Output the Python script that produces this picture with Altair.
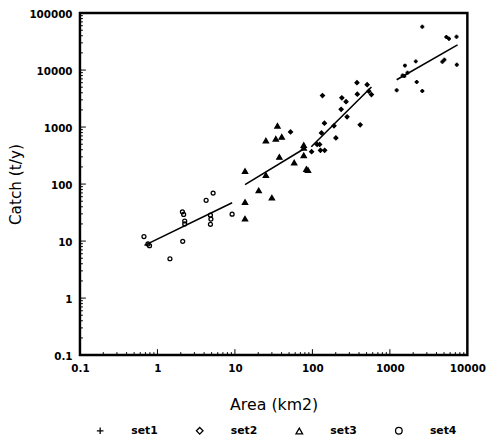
import altair as alt
import pandas as pd

# ---- data ----
set1_area = [2620, 5360, 5790, 7250, 2160, 1564, 4760, 5050, 7310, 1460, 1535, 1224, 2220, 2620, 1690]
set1_catch = [57300, 37900, 35500, 38500, 14200, 11970, 14000, 15200, 12400, 8030, 7820, 4430, 6170, 4300, 8940]

set2_area = [52.2, 97.7, 115, 124, 127, 144, 131, 135, 143, 190, 201, 235, 240, 272, 280, 376, 380, 414, 509, 535, 578]
set2_catch = [820, 370, 495, 495, 390, 390, 787, 3570, 1172, 1054, 646, 2047, 3260, 2780, 1510, 6000, 3770, 1097, 5540, 4250, 3720]

set3_area = [35.4, 25.1, 33.7, 40.2, 37.5, 58.2, 77.3, 77.3, 77.3, 83.6, 87.7, 13.5, 25.1, 20.3, 30.0, 13.5, 13.5]
set3_catch = [1054, 581, 621, 672, 299, 239, 482, 434, 319, 183, 176, 169, 144, 77.3, 57.7, 48.5, 24.7]

set4_area = [0.67, 0.755, 0.79, 1.45, 2.12, 2.10, 2.18, 2.25, 2.25, 4.25, 5.23, 4.83, 4.9, 4.83, 9.2]
set4_catch = [12.0, 8.9, 8.3, 4.9, 9.9, 32.6, 29.3, 22.5, 20.0, 51.9, 69.5, 28.5, 24.3, 19.7, 29.7]

# fitted line end points (per set)
line_set = ["set1", "set1", "set2", "set2", "set3", "set3", "set4", "set4"]
line_area = [1224, 7470, 96.8, 578, 13.5, 82, 0.68, 9.2]
line_catch = [6760, 27600, 451, 5050, 98, 433, 8.4, 47]

sets = ["set1", "set2", "set3", "set4"]
x_decades = [0.1, 1, 10, 100, 1000, 10000]
y_decades = [0.1, 1, 10, 100, 1000, 10000, 100000]
minor_mult = [2, 3, 4, 5, 6, 7, 8, 9]

rows = []
for name, xs, ys in [("set1", set1_area, set1_catch), ("set2", set2_area, set2_catch),
                     ("set3", set3_area, set3_catch), ("set4", set4_area, set4_catch)]:
    for a, c in zip(xs, ys):
        rows.append({"area": a, "catch": c, "set": name})
pts = pd.DataFrame(rows)
lines = pd.DataFrame({"area": line_area, "catch": line_catch, "set": line_set})

x_minor = [d * k for d in x_decades[:-1] for k in minor_mult]
y_minor = [d * k for d in y_decades[:-1] for k in minor_mult]

W, H = 393, 347
FONT = "DejaVu Sans"

xscale = alt.Scale(type="log", domain=[0.1, 10000], nice=False)
yscale = alt.Scale(type="log", domain=[0.1, 100000], nice=False)

plus_path = "M-1,0L1,0M0,-1L0,1"
shape_scale = alt.Scale(domain=sets, range=[plus_path, "diamond", "triangle-up", "circle"])


def x_ticks(values, size):
    return alt.Chart(pd.DataFrame({"area": values})).mark_rule(color="black", strokeWidth=1).encode(
        x=alt.X("area:Q", scale=xscale),
        y=alt.value(H), y2=alt.value(H - size),
    )


def y_ticks(values, size):
    return alt.Chart(pd.DataFrame({"catch": values})).mark_rule(color="black", strokeWidth=1).encode(
        y=alt.Y("catch:Q", scale=yscale),
        x=alt.value(0), x2=alt.value(size),
    )


points = alt.Chart(pts).mark_point(filled=False, color="black", opacity=1).encode(
    x=alt.X("area:Q", scale=xscale,
            axis=alt.Axis(orient="bottom", values=x_decades, format="~g", ticks=False, domain=False,
                          grid=False, labelPadding=9, labelFont=FONT, labelFontSize=10.5,
                          labelFontWeight="bold",
                          labelColor="black", labelOverlap=False, labelFlush=False,
                          title="Area  (km2)", titleFont=FONT, titleFontSize=16,
                          titleFontWeight="normal", titleColor="black", titlePadding=23)),
    y=alt.Y("catch:Q", scale=yscale,
            axis=alt.Axis(orient="left", values=y_decades, format="~g", ticks=False, domain=False,
                          grid=False, labelPadding=8, labelOffset=1.5, labelFont=FONT, labelFontSize=10.5,
                          labelFontWeight="bold",
                          labelColor="black", labelOverlap=False, labelFlush=False,
                          title="Catch  (t/y)", titleFont=FONT, titleFontSize=15.5,
                          titleFontWeight="normal", titleColor="black", titlePadding=5)),
    shape=alt.Shape("set:N", scale=shape_scale,
                    legend=alt.Legend(orient="none", direction="horizontal", legendX=15, legendY=418,
                                      title=None, labelFont=FONT, labelFontSize=11, labelFontWeight="bold",
                                      labelColor="black", symbolSize=45, symbolStrokeWidth=1.3,
                                      symbolStrokeColor="black", symbolFillColor="white",
                                      labelOffset=26, columnPadding=36)),
    size=alt.condition(alt.datum.set == "set3", alt.value(28), alt.value(16)),
    strokeWidth=alt.condition(alt.datum.set == "set1", alt.value(2), alt.value(1.3)),
)

fit = alt.Chart(lines).mark_line(color="black", strokeWidth=1.6).encode(
    x=alt.X("area:Q", scale=xscale),
    y=alt.Y("catch:Q", scale=yscale),
    detail="set:N",
)

filled_diamonds = alt.Chart(pts).transform_filter(alt.datum.set == "set2").mark_point(
    shape="diamond", filled=True, color="black", opacity=1, size=18).encode(
    x=alt.X("area:Q", scale=xscale),
    y=alt.Y("catch:Q", scale=yscale),
)

filled_triangles = alt.Chart(pts).transform_filter(alt.datum.set == "set3").mark_point(
    shape="triangle-up", filled=True, color="black", opacity=1, size=28).encode(
    x=alt.X("area:Q", scale=xscale),
    y=alt.Y("catch:Q", scale=yscale),
)

chart = alt.layer(
    points, fit, filled_diamonds, filled_triangles,
    x_ticks(x_minor, 3), x_ticks(x_decades, 6), y_ticks(y_minor, 3), y_ticks(y_decades, 6),
).properties(
    width=W, height=H,
    autosize=alt.AutoSizeParams(type="none"),
    padding={"left": 73, "top": 2, "right": 25, "bottom": 82},
    background="white",
).configure_view(stroke="black", strokeWidth=2.5).configure_axis(titleColor="black", labelColor="black")

chart.save("out.html", embed_options={"renderer": "svg", "actions": False})
